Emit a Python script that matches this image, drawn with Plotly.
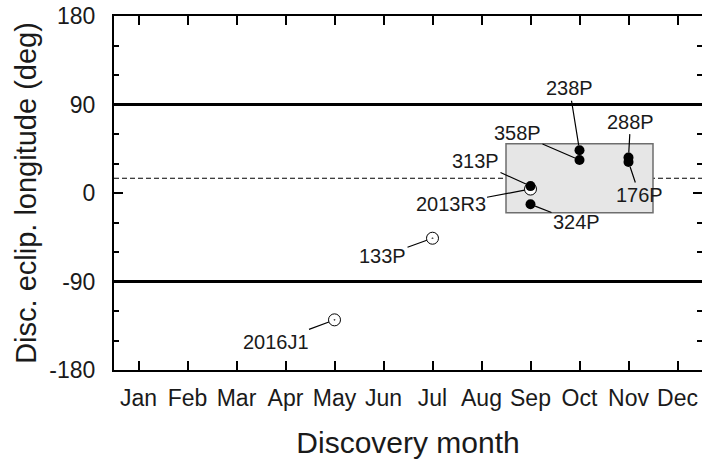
import plotly.graph_objects as go

# Comet discovery data: month of discovery and ecliptic longitude (deg)
names = ["2016J1", "133P", "2013R3", "313P", "324P", "358P", "238P", "288P", "176P"]
months = [5, 7, 9, 9, 9, 10, 10, 11, 11]
longitudes = [-129, -46, 4, 7, -11.5, 33.5, 43.5, 36, 31.5]
filled = [False, False, False, True, True, True, True, True, True]

month_ticks = list(range(1, 13))
month_labels = ["Jan", "Feb", "Mar", "Apr", "May", "Jun",
                "Jul", "Aug", "Sep", "Oct", "Nov", "Dec"]
y_ticks = [-180, -90, 0, 90, 180]
y_labels = ["-180", "-90", "0", "90", "180"]

# Highlighted region and reference lines
box_months = (8.5, 11.5)
box_lon = (-20, 50)
ref_lon = 15
limit_lon = [90, -90]

# Label placement (pixel offsets of the label from its point)
label_offsets = {
    "2016J1": (-59, 22), "133P": (-50, 18), "2013R3": (-80, 15),
    "313P": (-55, -25), "324P": (46, 18), "358P": (-62, -27),
    "238P": (-10, -62), "288P": (2, -36), "176P": (11, 33),
}

FONT = "Liberation Sans, Arial, Helvetica, sans-serif"

fig = go.Figure()

open_x = [m for m, f in zip(months, filled) if not f]
open_y = [v for v, f in zip(longitudes, filled) if not f]
fill_x = [m for m, f in zip(months, filled) if f]
fill_y = [v for v, f in zip(longitudes, filled) if f]

fig.add_trace(go.Scatter(
    x=open_x, y=open_y, mode="markers", showlegend=False,
    marker=dict(symbol="circle-dot", size=12, color="white",
                line=dict(color="black", width=1)),
))
fig.add_trace(go.Scatter(
    x=fill_x, y=fill_y, mode="markers", showlegend=False,
    marker=dict(symbol="circle", size=10, color="black",
                line=dict(color="black", width=0)),
))
# invisible trace on a right-hand axis to mirror the y ticks without a line
fig.add_trace(go.Scatter(x=[months[0]], y=[longitudes[0]], yaxis="y2",
                         mode="markers", marker=dict(opacity=0),
                         showlegend=False, hoverinfo="skip"))

fig.add_shape(type="rect", x0=box_months[0], x1=box_months[1],
              y0=box_lon[0], y1=box_lon[1], layer="below",
              fillcolor="#e6e6e6", line=dict(color="#6e6e6e", width=1.5))
fig.add_shape(type="line", xref="paper", x0=0, x1=1, y0=ref_lon, y1=ref_lon,
              layer="below", line=dict(color="black", width=1, dash="5px,3px"))
for yv in limit_lon:
    fig.add_shape(type="line", xref="paper", x0=0, x1=1, y0=yv, y1=yv,
                  layer="below", line=dict(color="black", width=3.2))

for n, m, v, f in zip(names, months, longitudes, filled):
    ax, ay = label_offsets[n]
    fig.add_annotation(
        x=m, y=v, text=n, showarrow=True, arrowhead=0, arrowwidth=1.2,
        arrowcolor="black", ax=ax, ay=ay, standoff=5 if f else 6,
        borderpad=1, font=dict(family=FONT, size=20, color="#1a1a1a"),
    )

axis_common = dict(showgrid=False, zeroline=False, ticks="inside",
                   tickcolor="black", tickwidth=2)

fig.update_layout(
    width=702, height=462,
    margin=dict(l=114, r=0, t=16, b=92),
    paper_bgcolor="white", plot_bgcolor="white",
    font=dict(family=FONT, color="#1a1a1a"),
    xaxis=dict(range=[0.5, 12.5], tickvals=month_ticks, ticktext=month_labels,
               ticklen=9, showline=True, linecolor="black", linewidth=2,
               mirror="ticks", tickfont=dict(size=23), ticklabelstandoff=6,
               title=dict(text="Discovery month", font=dict(size=30),
                          standoff=22),
               **axis_common),
    yaxis=dict(range=[-180, 180], tickvals=y_ticks, ticktext=y_labels,
               ticklen=9, showline=True, linecolor="black", linewidth=2,
               minor=dict(dtick=30, ticklen=5, tickwidth=2, ticks="inside",
                          tickcolor="black"),
               tickfont=dict(size=23), ticklabelstandoff=12,
               title=dict(text="Disc. eclip. longitude (deg)",
                          font=dict(size=29), standoff=4),
               **axis_common),
    yaxis2=dict(range=[-180, 180], overlaying="y", side="right",
                tickvals=y_ticks, ticklen=9, showticklabels=False,
                showline=False,
                minor=dict(dtick=30, ticklen=5, tickwidth=2, ticks="inside",
                           tickcolor="black"),
                **axis_common),
)

fig.write_html("out.html")
